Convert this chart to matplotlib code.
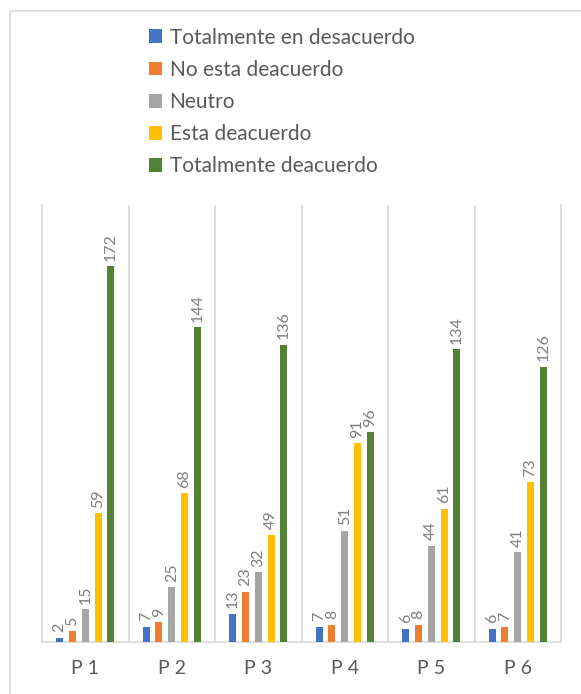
import matplotlib
matplotlib.use("Agg")
import matplotlib.pyplot as plt
from matplotlib.patches import Rectangle, Patch
import numpy as np

plt.rcParams['font.family'] = ['Lato', 'DejaVu Sans']

categories = ["P 1", "P 2", "P 3", "P 4", "P 5", "P 6"]
series_names = ["Totalmente en desacuerdo", "No esta deacuerdo", "Neutro",
                "Esta deacuerdo", "Totalmente deacuerdo"]
tot_desacuerdo = [2, 7, 13, 7, 6, 6]
no_deacuerdo = [5, 9, 23, 8, 8, 7]
neutro = [15, 25, 32, 51, 44, 41]
deacuerdo = [59, 68, 49, 91, 61, 73]
tot_deacuerdo = [172, 144, 136, 96, 134, 126]
colors = ["#4472C4", "#ED7D31", "#A5A5A5", "#FFC000", "#548235"]

W, H = 581, 694
fig = plt.figure(figsize=(W / 100, H / 100), dpi=100)
fig.patch.set_facecolor("white")

# outer chart border (left and top visible)
fig.add_artist(Rectangle((10 / W, -0.1), 1.2, (H - 11) / H + 0.1,
                         transform=fig.transFigure, fill=False,
                         edgecolor="#D9D9D9", linewidth=1.2))

ax = fig.add_axes([42 / W, (H - 642) / H, (561 - 42) / W, (642 - 205) / H])
data = [tot_desacuerdo, no_deacuerdo, neutro, deacuerdo, tot_deacuerdo]
x = np.arange(len(categories))
step = 0.148
width = 0.082
for i, (vals, c) in enumerate(zip(data, colors)):
    pos = x + (i - 2) * step
    ax.bar(pos, vals, width=width, color=c, zorder=3)
    for p, v in zip(pos, vals):
        ax.annotate(str(v), (p, v), xytext=(0, 4), textcoords="offset points",
                    rotation=90, ha="center", va="bottom", fontsize=11.5,
                    color="#7F7F7F")

ax.set_xlim(-0.5, len(categories) - 0.5)
ax.set_ylim(0, 200)
ax.set_yticks([])
ax.set_xticks(x)
ax.set_xticklabels(categories, fontsize=14, color="#595959")
ax.tick_params(axis="x", length=0, pad=13)
for b in np.arange(0.5, len(categories) - 0.5, 1.0):
    ax.axvline(b, color="#D9D9D9", linewidth=1.2, zorder=1)
for s in ["left", "right", "bottom"]:
    ax.spines[s].set_color("#D9D9D9")
    ax.spines[s].set_linewidth(1.2)
ax.spines["top"].set_visible(False)

handles = [Patch(facecolor=c, edgecolor="none") for c in colors]
fig.legend(handles, series_names, loc="upper left",
           bbox_to_anchor=(130 / W, 1 - 9 / H), frameon=False,
           fontsize=15, labelcolor="#595959", handlelength=0.65,
           handleheight=0.65, handletextpad=0.35, labelspacing=0.58)

fig.savefig("out.png", dpi=100, facecolor="white")
